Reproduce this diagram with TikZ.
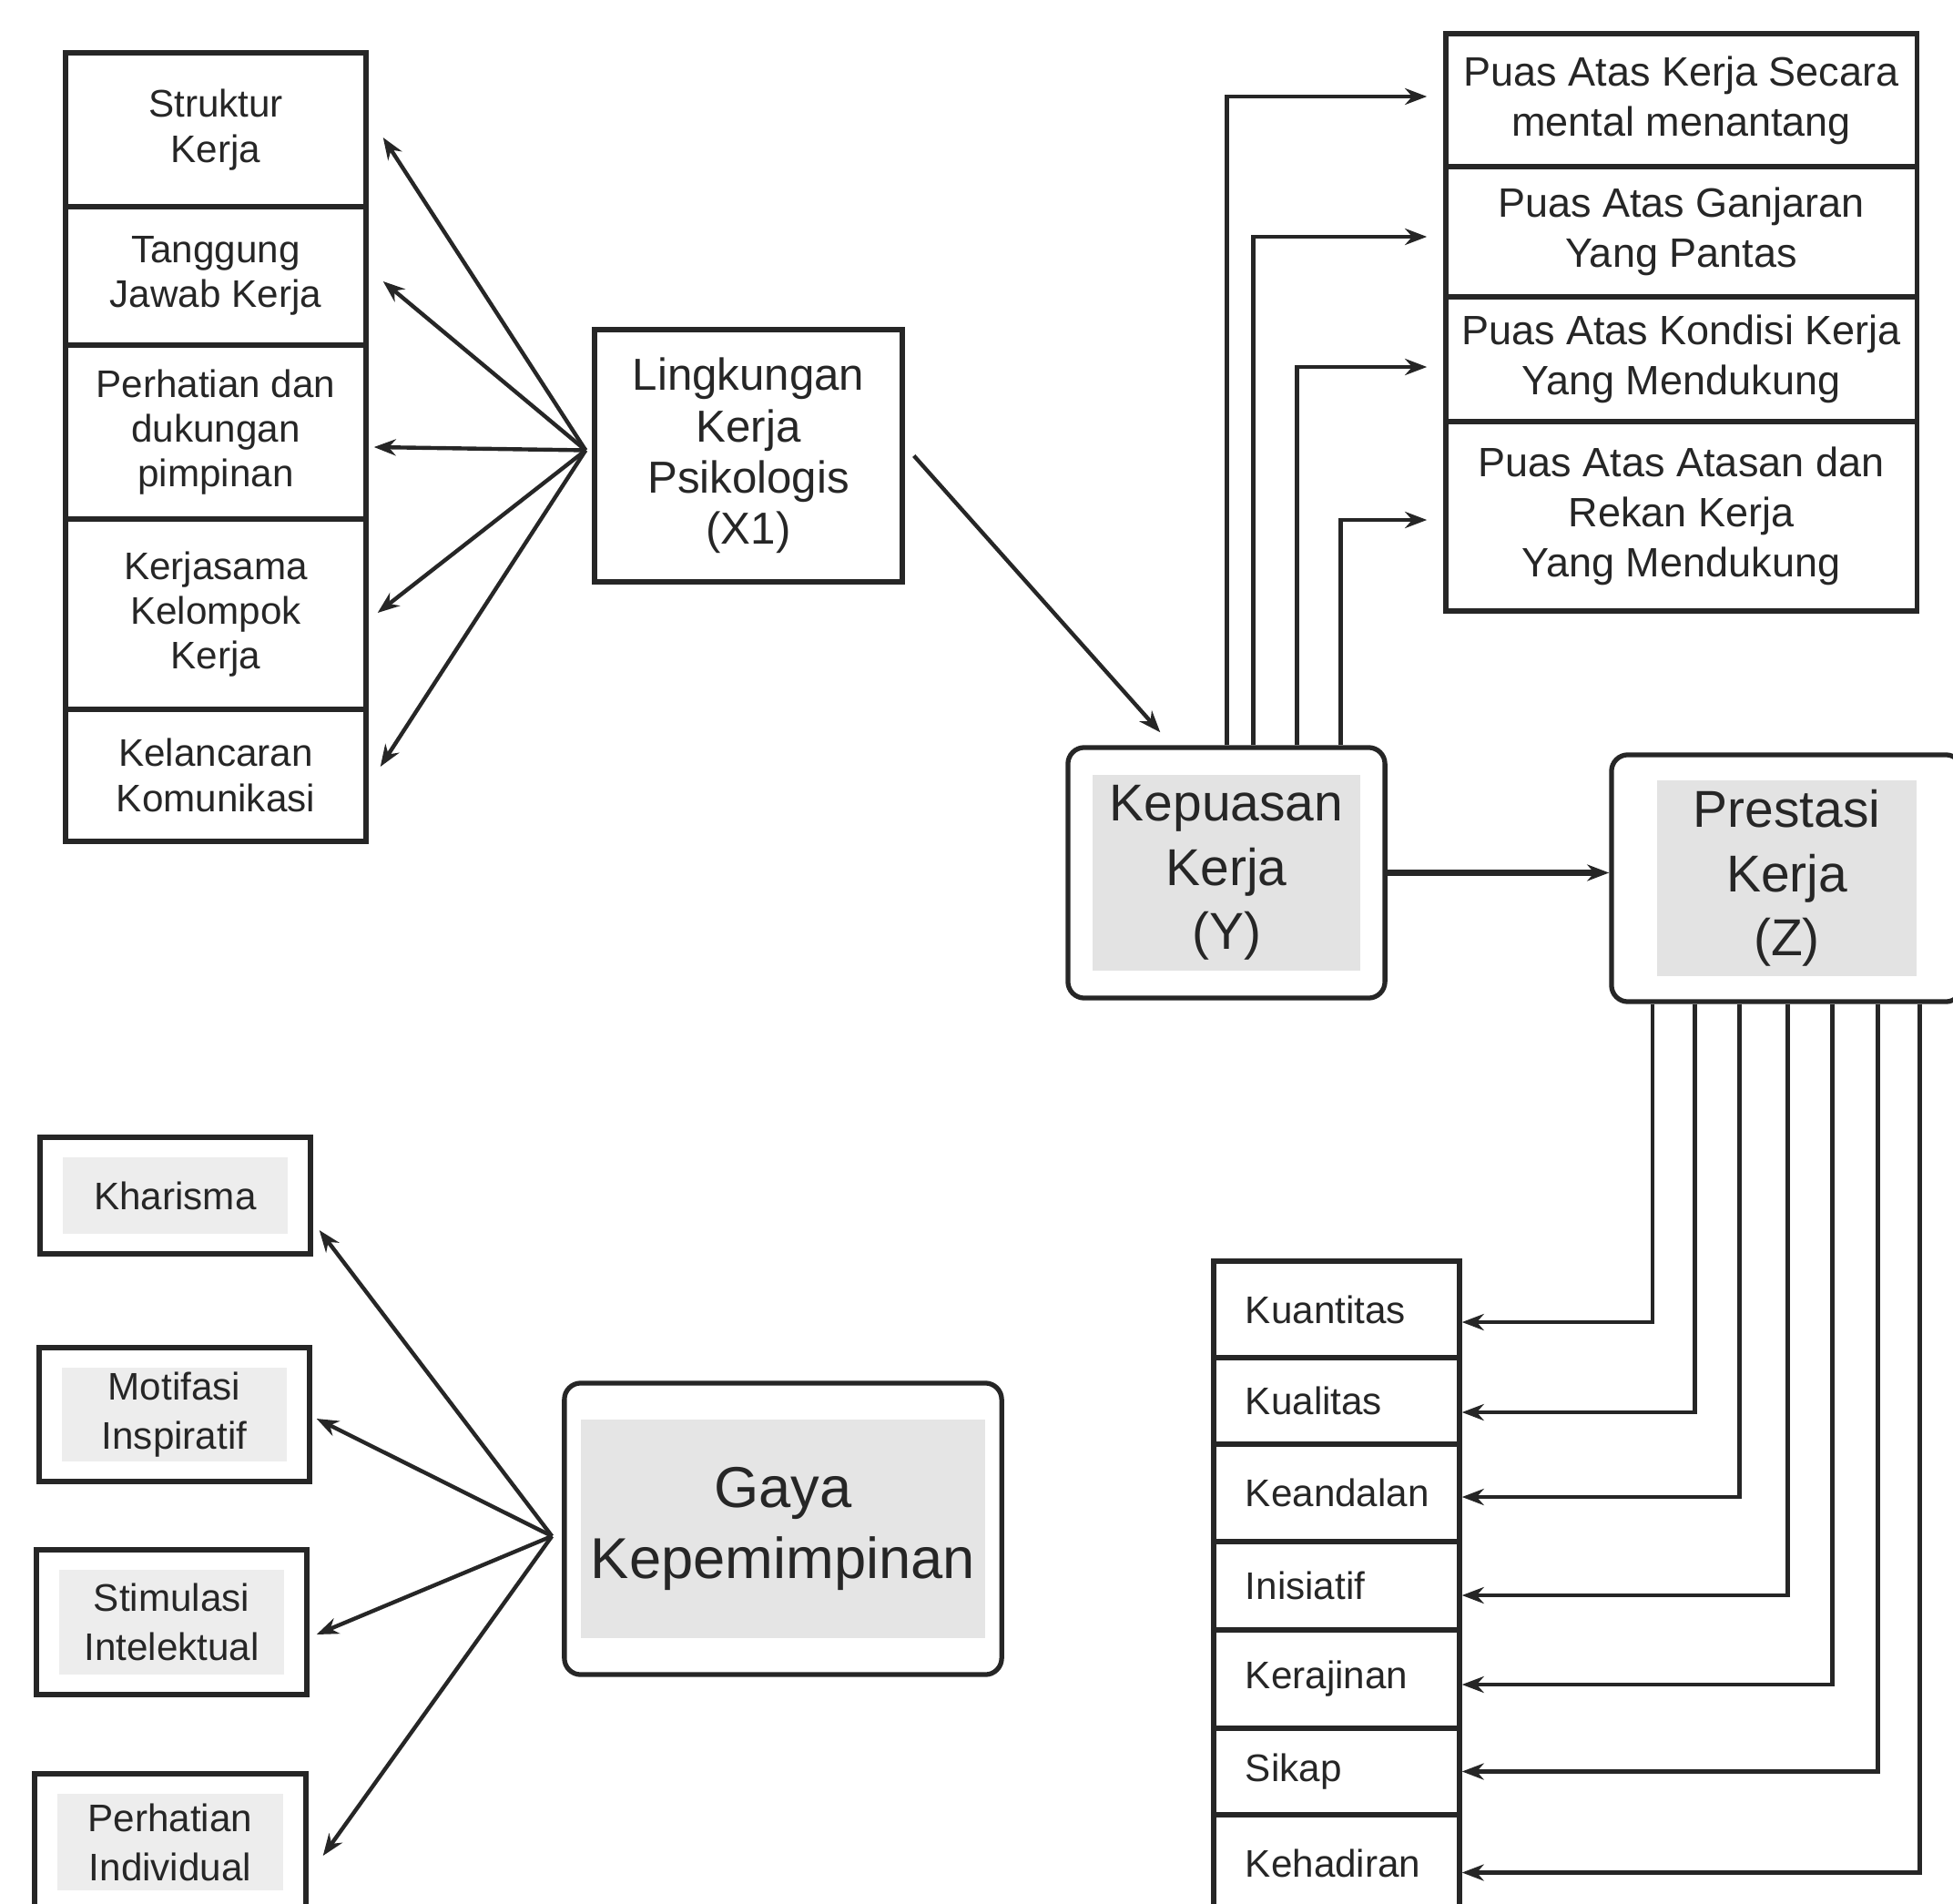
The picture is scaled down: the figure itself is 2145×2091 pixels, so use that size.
\documentclass[tikz,border=0pt]{standalone}
\usepackage{fontspec}
\setmainfont{Liberation Sans}
\usetikzlibrary{arrows.meta,calc}
\begin{document}
\begin{tikzpicture}[x=0.01cm,y=-0.01cm,
  box/.style={draw=black!85,line width=1.5pt,rectangle,inner sep=0pt,align=center,
    font=\fontsize{12}{14}\selectfont,text=black!85},
  topbox/.style={box,minimum width=5.17cm,font=\fontsize{12.8}{15.6}\selectfont},
  botbox/.style={box,text width=2.0cm,inner xsep=0.35cm,align=left,minimum width=2.7cm},
  bigbox/.style={box,rounded corners=0.18cm},
  shadein/.style 2 args={path picture={\fill[#2,sharp corners]
      ($(path picture bounding box.south west)+(#1)$) rectangle
      ($(path picture bounding box.north east)-(#1)$);}},
  arr/.style={-{Stealth[length=0.24cm,width=0.18cm]},line width=1.25pt,draw=black!85},
  ]
\useasboundingbox (0,0) rectangle (2145,2091);

% left stack
\node[box,minimum width=3.3cm,minimum height=1.69cm] (s1) at (237,142.5) {Struktur\\Kerja};
\node[box,minimum width=3.3cm,minimum height=1.52cm] (s2) at (237,303) {Tanggung\\Jawab Kerja};
\node[box,minimum width=3.3cm,minimum height=1.91cm] (s3) at (237,474.5) {Perhatian dan\\dukungan\\pimpinan};
\node[box,minimum width=3.3cm,minimum height=2.09cm] (s4) at (237,674.5) {Kerjasama\\Kelompok\\Kerja};
\node[box,minimum width=3.3cm,minimum height=1.45cm] (s5) at (237,851.5) {Kelancaran\\Komunikasi};

% X1
\node[box,minimum width=3.38cm,minimum height=2.77cm,font=\fontsize{14}{16}\selectfont] (x1) at (822,500.5) {Lingkungan\\Kerja\\Psikologis\\(X1)};

% top right stack
\node[topbox,minimum height=1.46cm] (r1) at (1846.5,110) {Puas Atas Kerja Secara\\mental menantang};
\node[topbox,minimum height=1.43cm] (r2) at (1846.5,254.5) {Puas Atas Ganjaran\\Yang Pantas};
\node[topbox,minimum height=1.37cm] (r3) at (1846.5,394.5) {Puas Atas Kondisi Kerja\\Yang Mendukung};
\node[topbox,minimum height=2.08cm] (r4) at (1846.5,567) {Puas Atas Atasan dan\\Rekan Kerja\\Yang Mendukung};

% Y and Z
\node[bigbox,shadein={27,-30}{gray!22},minimum width=3.48cm,minimum height=2.75cm,font=\fontsize{16.2}{20}\selectfont] (y) at (1347,958.5) {Kepuasan\\Kerja\\(Y)};
\node[bigbox,shadein={50,-28}{gray!22},minimum width=3.85cm,minimum height=2.71cm,font=\fontsize{16.2}{20}\selectfont] (z) at (1962.5,964.5) {Prestasi\\Kerja\\(Z)};

% Gaya
\node[bigbox,shadein={18,-40}{gray!20},minimum width=4.8cm,minimum height=3.2cm,font=\fontsize{18}{22}\selectfont] (g) at (860,1679) {Gaya\\Kepemimpinan};

% leadership boxes
\node[box,shadein={25,-22}{gray!14},minimum width=2.97cm,minimum height=1.28cm] (k1) at (192.5,1313) {Kharisma};
\node[box,shadein={25,-22}{gray!14},minimum width=2.97cm,minimum height=1.47cm,font=\fontsize{12}{15.4}\selectfont] (k2) at (191.5,1553.5) {Motifasi\\Inspiratif};
\node[box,shadein={25,-22}{gray!14},minimum width=2.97cm,minimum height=1.59cm,font=\fontsize{12}{15.4}\selectfont] (k3) at (188.5,1781.5) {Stimulasi\\Intelektual};
\node[box,shadein={25,-22}{gray!14},minimum width=2.98cm,minimum height=1.5cm,font=\fontsize{12}{15.4}\selectfont] (k4) at (187,2023) {Perhatian\\Individual};

% bottom stack
\node[botbox,minimum height=1.06cm] (b1) at (1468,1438) {Kuantitas};
\node[botbox,minimum height=0.95cm] (b2) at (1468,1538.5) {Kualitas};
\node[botbox,minimum height=1.07cm] (b3) at (1468,1639.5) {Keandalan};
\node[botbox,minimum height=0.97cm] (b4) at (1468,1741.5) {Inisiatif};
\node[botbox,minimum height=1.08cm] (b5) at (1468,1844) {Kerajinan};
\node[botbox,minimum height=0.95cm] (b6) at (1468,1945.5) {Sikap};
\node[botbox,minimum height=1.07cm] (b7) at (1468,2046.5) {Kehadiran};

% left fan
\coordinate (f1) at ([xshift=-0.07cm,yshift=0.06cm]x1.west);
\draw[arr] (f1) -- ([xshift=0.16cm,yshift=-0.085cm]s1.east);
\draw[arr] (f1) -- ([xshift=0.16cm,yshift=-0.06cm]s2.east);
\draw[arr] (f1) -- ([xshift=0.06cm,yshift=-0.165cm]s3.east);
\draw[arr] (f1) -- ([xshift=0.10cm,yshift=0.015cm]s4.east);
\draw[arr] (f1) -- ([xshift=0.13cm,yshift=0.095cm]s5.east);

% X1 -> Y
\draw[arr] ([xshift=0.1cm]x1.east) -- ([xshift=1.04cm,yshift=0.14cm]y.north west);

% Y -> top right
\draw[arr] ([xshift=1.77cm]y.north west) |- ([xshift=-0.18cm,yshift=0.04cm]r1.west);
\draw[arr] ([xshift=2.06cm]y.north west) |- ([xshift=-0.18cm,yshift=-0.055cm]r2.west);
\draw[arr] ([xshift=2.54cm]y.north west) |- ([xshift=-0.18cm,yshift=-0.085cm]r3.west);
\draw[arr] ([xshift=3.02cm]y.north west) |- ([xshift=-0.18cm,yshift=-0.04cm]r4.west);

% Y -> Z
\draw[arr,line width=1.9pt] (y.east) -- (y.east -| z.west);

% Z -> bottom stack
\draw[arr] ([xshift=0.48cm]z.south west) |- ([yshift=-0.14cm]b1.east);
\draw[arr] ([xshift=0.94cm]z.south west) |- ([yshift=-0.125cm]b2.east);
\draw[arr] ([xshift=1.43cm]z.south west) |- ([yshift=-0.045cm]b3.east);
\draw[arr] ([xshift=1.96cm]z.south west) |- ([yshift=-0.105cm]b4.east);
\draw[arr] ([xshift=2.45cm]z.south west) |- ([yshift=-0.06cm]b5.east);
\draw[arr] ([xshift=2.95cm]z.south west) |- (b6.east);
\draw[arr] ([xshift=3.41cm]z.south west) |- ([yshift=-0.10cm]b7.east);

% Gaya fan
\coordinate (f2) at ([xshift=-0.11cm,yshift=-0.08cm]g.west);
\draw[arr] (f2) -- ([xshift=0.07cm,yshift=-0.38cm]k1.east);
\draw[arr] (f2) -- ([xshift=0.05cm,yshift=-0.045cm]k2.east);
\draw[arr] (f2) -- ([xshift=0.08cm,yshift=-0.135cm]k3.east);
\draw[arr] (f2) -- ([xshift=0.16cm,yshift=-0.15cm]k4.east);
\end{tikzpicture}
\end{document}
